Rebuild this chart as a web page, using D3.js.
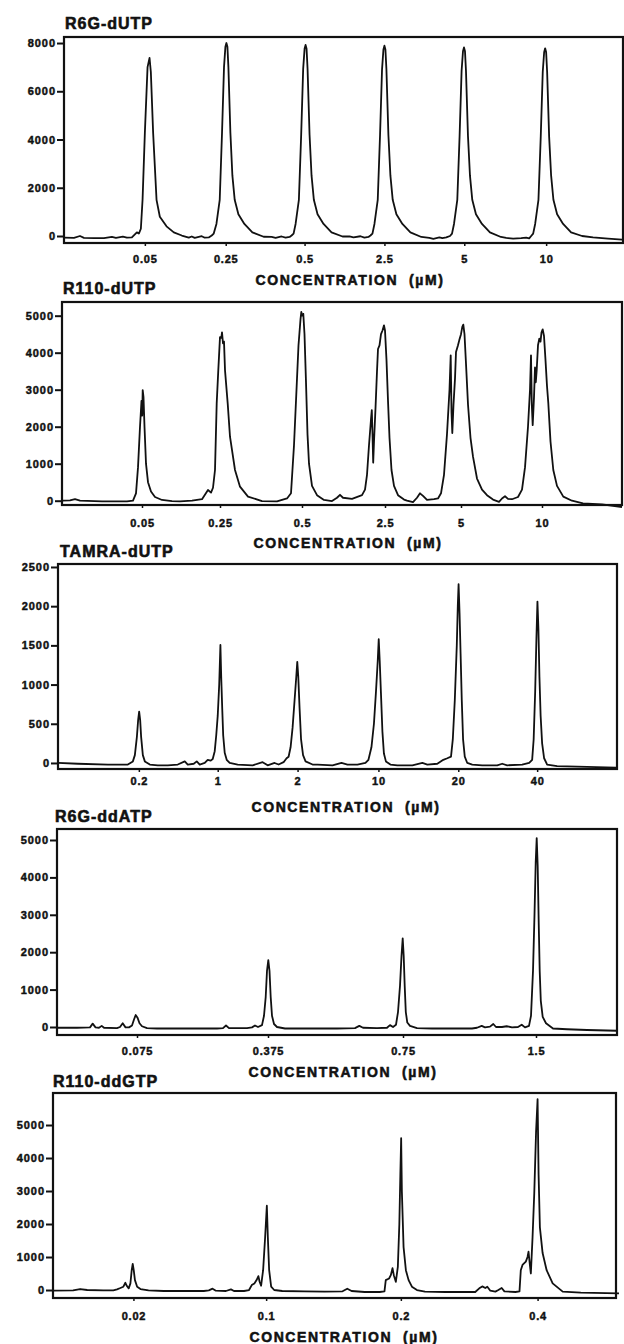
<!DOCTYPE html>
<html>
<head>
<meta charset="utf-8">
<title>Concentration traces</title>
<script src="https://cdn.jsdelivr.net/npm/d3@7"></script>
<style>
  body { margin: 0; background: #fff; }
  svg text { font-family: "Liberation Sans", Arial, sans-serif; font-weight: bold; fill: #111; stroke: #111; }
  .ytick text { font-size: 11px; letter-spacing: 1px; stroke-width: 0.45px; }
  .xtick text { font-size: 11px; letter-spacing: 0.8px; stroke-width: 0.45px; }
  .title { font-size: 16px; letter-spacing: 1px; stroke-width: 0.6px; }
  .conc { font-size: 14px; letter-spacing: 1.6px; stroke-width: 0.55px; }
</style>
</head>
<body>
<svg id="chart" width="624" height="1344"></svg>
<script>
// ---- data (x = scan position, y = signal) ----
const titles = ["R6G-dUTP", "R110-dUTP", "TAMRA-dUTP", "R6G-ddATP", "R110-ddGTP"];

const concR6GdUTP = ["0.05", "0.25", "0.5", "2.5", "5", "10"];
const posR6GdUTP = [81, 162, 241, 321, 401, 483];
const yTicksR6GdUTP = [0, 2000, 4000, 6000, 8000];
const yDomainR6GdUTP = [-290, 8250];
const traceR6GdUTP = [[0,-70],[10,-80],[16,0],[20,-80],[30,-90],[40,-90],[48,-40],[52,-80],[59,-30],[63,-70],[68,-60],[73,150],[75,100],[77,300],[78.7,1500],[81,4270],[83.7,7000],[85.7,7380],[87,6800],[89.3,4270],[92.7,1500],[96,800],[102.7,400],[110,150],[118,20],[125,-70],[128,-20],[131,-80],[138,-10],[141,-70],[145,-60],[148,20],[150,100],[152.7,500],[156,1500],[158.3,4270],[160.3,7000],[161.7,7850],[162.7,8000],[163.7,7850],[164.7,7000],[166.7,4270],[168.7,2500],[171,1500],[174.7,900],[180.7,500],[188.7,150],[200,-30],[208,-40],[212,-80],[218,-20],[222,-70],[226,-40],[228,20],[230,100],[232,500],[235.3,1500],[237.6,4200],[239.6,6930],[241,7760],[242,7920],[243,7760],[244,6930],[246,4200],[248,2500],[250.3,1500],[254,900],[260,500],[268,150],[279,-20],[286,-20],[290,-60],[297,-10],[301,-70],[305,-40],[307,20],[309,100],[311,500],[314.3,1500],[316.6,4180],[318.6,6900],[320,7730],[321,7890],[322,7730],[323,6900],[325,4180],[327,2500],[329.3,1500],[333,900],[339,500],[347,150],[358,-40],[366,-80],[370,-120],[376,-60],[379,-90],[383,-60],[386.7,0],[388.7,100],[390.7,500],[394,1500],[396.3,4140],[398.3,6840],[399.7,7660],[400.7,7820],[401.7,7660],[402.7,6840],[404.7,4140],[406.7,2500],[409,1500],[412.7,900],[418.7,500],[426.7,150],[437.7,-40],[443,-80],[450,-110],[458,-90],[463,-70],[466,-100],[468,0],[470,100],[472,500],[475.3,1500],[477.6,4120],[479.6,6800],[481,7620],[482,7780],[483,7620],[484,6800],[486,4120],[488,2500],[490.3,1500],[494,900],[500,500],[508,150],[519,0],[530,-60],[545,-110],[559,-150]];

const concR110dUTP = ["0.05", "0.25", "0.5", "2.5", "5", "10"];
const posR110dUTP = [80, 158, 240, 323, 399, 480];
const yTicksR110dUTP = [0, 1000, 2000, 3000, 4000, 5000];
const yDomainR110dUTP = [-116, 5370];
const traceR110dUTP = [[0,0],[8,10],[13,40],[18,0],[40,-20],[65,-20],[71,0],[74,200],[76,900],[78,2000],[79.5,2700],[80.2,2300],[80.7,2990],[81.5,2800],[82.5,2000],[84,1000],[86,500],[89,250],[93,100],[100,20],[110,-10],[118,-20],[130,0],[140,40],[146,290],[149,220],[151,350],[153,830],[154.7,2630],[156.3,3530],[158,4420],[159.3,4400],[160,4550],[161,4250],[162,4300],[163,3530],[165.7,2630],[168,1730],[173,830],[178,380],[186,110],[200,-10],[215,-20],[225,60],[229,200],[232,1500],[234.5,3000],[236.5,4200],[238.5,4900],[239.3,5100],[240.3,5000],[241.3,5050],[242.5,4500],[244,3200],[245.5,1800],[247,1000],[250,400],[255,150],[262,20],[270,-10],[275,80],[278,160],[281,80],[290,50],[300,150],[303,300],[305,700],[307,1500],[309,2200],[309.8,2450],[310.5,1800],[311.2,1030],[312,1600],[313.5,2500],[315,3500],[316,4100],[317.5,4200],[319,4500],[320.5,4600],[322,4740],[323,4600],[324.5,3800],[326,2700],[327.5,1700],[329.5,830],[332,400],[336,150],[342,30],[345,0],[351,-40],[355,80],[358,200],[361,130],[365,20],[372,40],[376,60],[379,200],[382,700],[385,1800],[387.5,3000],[388.7,3930],[389.5,2400],[390.3,1830],[391.5,2600],[393,3300],[394,4020],[396,4200],[397.3,4340],[399,4500],[400.3,4700],[401.3,4760],[402.5,4500],[404,3700],[406,2600],[408.5,1700],[411,1190],[415,600],[420,300],[425,150],[431,30],[437,-30],[440,60],[443,120],[446,50],[450,40],[456,100],[460,300],[463,900],[466,2000],[468,3000],[469,3930],[469.8,2600],[470.7,2040],[472,2800],[473,3600],[473.8,3200],[474.7,3530],[476,4200],[477.3,4380],[478.5,4300],[479.5,4550],[480.7,4630],[482,4450],[483.5,3800],[485,3100],[486.3,2640],[488.5,1600],[491.3,830],[495,400],[501.3,110],[510,0],[521,-70],[540,-100],[560,-170]];

const concTAMRAdUTP = ["0.2", "1", "2", "10", "20", "40"];
const posTAMRAdUTP = [81, 160, 240, 321, 401, 480];
const yTicksTAMRAdUTP = [0, 500, 1000, 1500, 2000, 2500];
const yDomainTAMRAdUTP = [-77, 2538];
const traceTAMRAdUTP = [[0,0],[20,-10],[50,-20],[70,-20],[75,20],[77,100],[79,330],[80.3,550],[81.3,655],[82.3,550],[83.3,330],[85,100],[87,20],[92,-20],[100,-30],[110,-30],[120,-20],[127,20],[130,-20],[136,-10],[139,20],[142,-20],[147,0],[150,40],[153,30],[155,50],[157,150],[158.5,350],[160,600],[161.5,1000],[162.7,1505],[163.5,1100],[164.5,700],[165.5,350],[167,130],[169,40],[172,0],[180,-20],[195,-30],[205,10],[210,-30],[217,0],[221,-20],[226,10],[229,60],[231,80],[233,200],[235,450],[237,800],[238.7,1100],[239.7,1290],[240.7,1100],[242,700],[243.5,300],[245.5,100],[248,20],[255,-20],[260,-20],[275,-30],[284,0],[290,-20],[300,-20],[308,0],[311,40],[314,200],[316.5,500],[318.5,900],[320.3,1300],[321.3,1578],[322.3,1300],[323.5,900],[325,400],[326.5,120],[328.5,20],[333,-20],[340,-30],[355,-30],[365,0],[370,-20],[380,-10],[386,40],[390,60],[393.7,80],[395.5,300],[397.5,800],[399.5,1500],[400.5,2000],[401.3,2280],[402.3,1900],[403.3,1400],[404.5,800],[405.8,300],[407.5,80],[410,0],[415,-20],[425,-30],[440,-30],[445,-10],[450,-30],[465,-20],[472,0],[475,40],[476.5,300],[478,900],[479.3,1600],[480.3,2058],[481.3,1700],[482.3,1100],[483.5,600],[485,250],[487,60],[490,-20],[500,-40],[530,-50],[559,-60]];

const concR6GddATP = ["0.075", "0.375", "0.75", "1.5"];
const posR6GddATP = [80, 211, 346, 479];
const yTicksR6GddATP = [0, 1000, 2000, 3000, 4000, 5000];
const yDomainR6GddATP = [-214, 5294];
const traceR6GddATP = [[0,-20],[20,-20],[33,-10],[35.7,90],[38.5,-10],[42,-20],[44.7,30],[47,-20],[60,-30],[63,0],[65.7,100],[68.5,-10],[72,-10],[75,40],[77,200],[78.7,320],[80.5,250],[82.5,100],[85,20],[90,-30],[100,-40],[130,-40],[160,-40],[166,-30],[169,40],[172,-30],[190,-30],[195,-10],[198,40],[201,0],[205,50],[207,300],[208.7,800],[210,1500],[211.3,1790],[212.5,1500],[213.7,800],[215,300],[217,80],[220,0],[228,-40],[250,-40],[280,-40],[298,-30],[302.3,30],[306,-20],[320,-30],[330,-20],[333,50],[336,0],[339,60],[341,400],[343,1100],[344.5,1900],[345.7,2370],[346.7,1900],[347.7,1100],[348.8,400],[350.3,120],[353,30],[360,-30],[375,-40],[400,-40],[415,-40],[420,-20],[424.7,30],[428,-10],[433,10],[436.3,80],[439,0],[445,0],[449.7,20],[455,-10],[461,0],[464.7,60],[468,-10],[472,30],[474,300],[476,1500],[477.5,3000],[478.7,4400],[479.7,5050],[480.7,4300],[481.7,2800],[482.7,1500],[483.8,700],[485.7,270],[489,100],[496,-40],[510,-60],[530,-80],[560,-100]];

const concR110ddGTP = ["0.02", "0.1", "0.2", "0.4"];
const posR110ddGTP = [80, 212, 346, 482];
const yTicksR110ddGTP = [0, 1000, 2000, 3000, 4000, 5000];
const yDomainR110ddGTP = [-242, 5970];
const traceR110ddGTP = [[0,-20],[20,-10],[27,30],[34,0],[50,-10],[60,-10],[63.7,20],[67,60],[70,100],[72,220],[73.5,120],[75.3,50],[77,200],[78.3,600],[79.3,790],[80.3,600],[81.5,300],[83.7,100],[87,30],[95,-10],[110,-30],[130,-30],[150,-30],[155,-10],[158.7,40],[162,-20],[172,-30],[177,20],[180,-30],[190,-30],[195,0],[197.7,150],[200.3,200],[202.5,300],[204.3,420],[205.5,250],[207,130],[209,600],[211,1600],[212.7,2555],[213.7,1600],[215,600],[217,100],[220,0],[228,-30],[250,-40],[270,-50],[288,-40],[292.7,40],[297,-30],[310,-60],[325,-60],[329.7,-40],[331,300],[334.3,350],[336,450],[337.7,660],[339,450],[341,250],[343,700],[344.5,2000],[345.5,3500],[346.3,4600],[347,3000],[348.7,1300],[351,600],[353.7,300],[357,100],[362,0],[370,-50],[390,-60],[400,-60],[420,-60],[424,50],[427,110],[430,60],[432,100],[435,-20],[440,-50],[443,0],[446.3,60],[449,-40],[460,-60],[464,-40],[465.3,600],[467,760],[470.3,860],[472,1000],[473,1160],[474.2,800],[475.3,500],[477,1600],[478.7,2930],[480.5,4800],[482,5780],[483,3500],[484.3,1900],[487,1120],[491,600],[497,200],[507,-50],[525,-80],[563,-100]];

const xDomain = [0, 560];

// ---- layout of the five stacked frames ----
const layout = [
  {left: 64, top: 37,   right: 623, bottom: 243,  titleX: 65, titleY: 29,   gap: 9,  concX: 350, concY: 285},
  {left: 62, top: 302,  right: 622, bottom: 505,  titleX: 63, titleY: 294,  gap: 11, concX: 348, concY: 548},
  {left: 58, top: 564,  right: 617, bottom: 769,  titleX: 60, titleY: 557,  gap: 5,  concX: 346, concY: 812},
  {left: 57, top: 829,  right: 617, bottom: 1035, titleX: 55, titleY: 822,  gap: 9,  concX: 343, concY: 1077},
  {left: 53, top: 1093, right: 616, bottom: 1298, titleX: 53, titleY: 1087, gap: 11, concX: 344, concY: 1342}
];

const panels = [
  {trace: traceR6GdUTP,   labels: concR6GdUTP,   pos: posR6GdUTP,   yTicks: yTicksR6GdUTP,   yDomain: yDomainR6GdUTP},
  {trace: traceR110dUTP,  labels: concR110dUTP,  pos: posR110dUTP,  yTicks: yTicksR110dUTP,  yDomain: yDomainR110dUTP},
  {trace: traceTAMRAdUTP, labels: concTAMRAdUTP, pos: posTAMRAdUTP, yTicks: yTicksTAMRAdUTP, yDomain: yDomainTAMRAdUTP},
  {trace: traceR6GddATP,  labels: concR6GddATP,  pos: posR6GddATP,  yTicks: yTicksR6GddATP,  yDomain: yDomainR6GddATP},
  {trace: traceR110ddGTP, labels: concR110ddGTP, pos: posR110ddGTP, yTicks: yTicksR110ddGTP, yDomain: yDomainR110ddGTP}
];

const svg = d3.select("#chart");
svg.append("rect").attr("width", 624).attr("height", 1344).attr("fill", "#fff");

panels.forEach(function(p, i) {
  const L = layout[i];
  const x = d3.scaleLinear().domain(xDomain).range([L.left, L.right]);
  const y = d3.scaleLinear().domain(p.yDomain).range([L.bottom, L.top]);
  const g = svg.append("g");

  // title
  g.append("text").attr("class", "title")
    .attr("x", L.titleX).attr("y", L.titleY)
    .text(titles[i]);

  // y axis ticks + labels
  g.append("g").attr("class", "ytick")
    .attr("transform", `translate(${L.left},0)`)
    .call(d3.axisLeft(y).tickValues(p.yTicks).tickFormat(d3.format("d")).tickSize(7).tickPadding(2))
    .call(a => a.select(".domain").remove())
    .call(a => a.selectAll("line").attr("stroke", "#111").attr("stroke-width", 2))
    .call(a => a.selectAll("text").attr("fill", "#111").attr("dx", "0.1em"));

  // x axis concentration labels
  g.append("g").attr("class", "xtick")
    .attr("transform", `translate(0,${L.bottom})`)
    .call(d3.axisBottom(x).tickValues(p.pos).tickFormat((d, k) => p.labels[k]).tickSize(3).tickPadding(L.gap))
    .call(a => a.select(".domain").remove())
    .call(a => a.selectAll("line").attr("stroke", "#111").attr("stroke-width", 1.5))
    .call(a => a.selectAll("text").attr("fill", "#111"));

  // trace
  g.append("path")
    .datum(p.trace)
    .attr("fill", "none")
    .attr("stroke", "#111")
    .attr("stroke-width", 1.8)
    .attr("stroke-linejoin", "round")
    .attr("d", d3.line().x(d => x(d[0])).y(d => y(d[1])));

  // frame
  g.append("rect")
    .attr("x", L.left).attr("y", L.top)
    .attr("width", L.right - L.left).attr("height", L.bottom - L.top)
    .attr("fill", "none").attr("stroke", "#111").attr("stroke-width", 2.2);

  // axis title
  g.append("text").attr("class", "conc")
    .attr("x", L.concX).attr("y", L.concY)
    .attr("text-anchor", "middle")
    .text("CONCENTRATION\u00a0\u00a0(\u00b5M)");
});
</script>
</body>
</html>
